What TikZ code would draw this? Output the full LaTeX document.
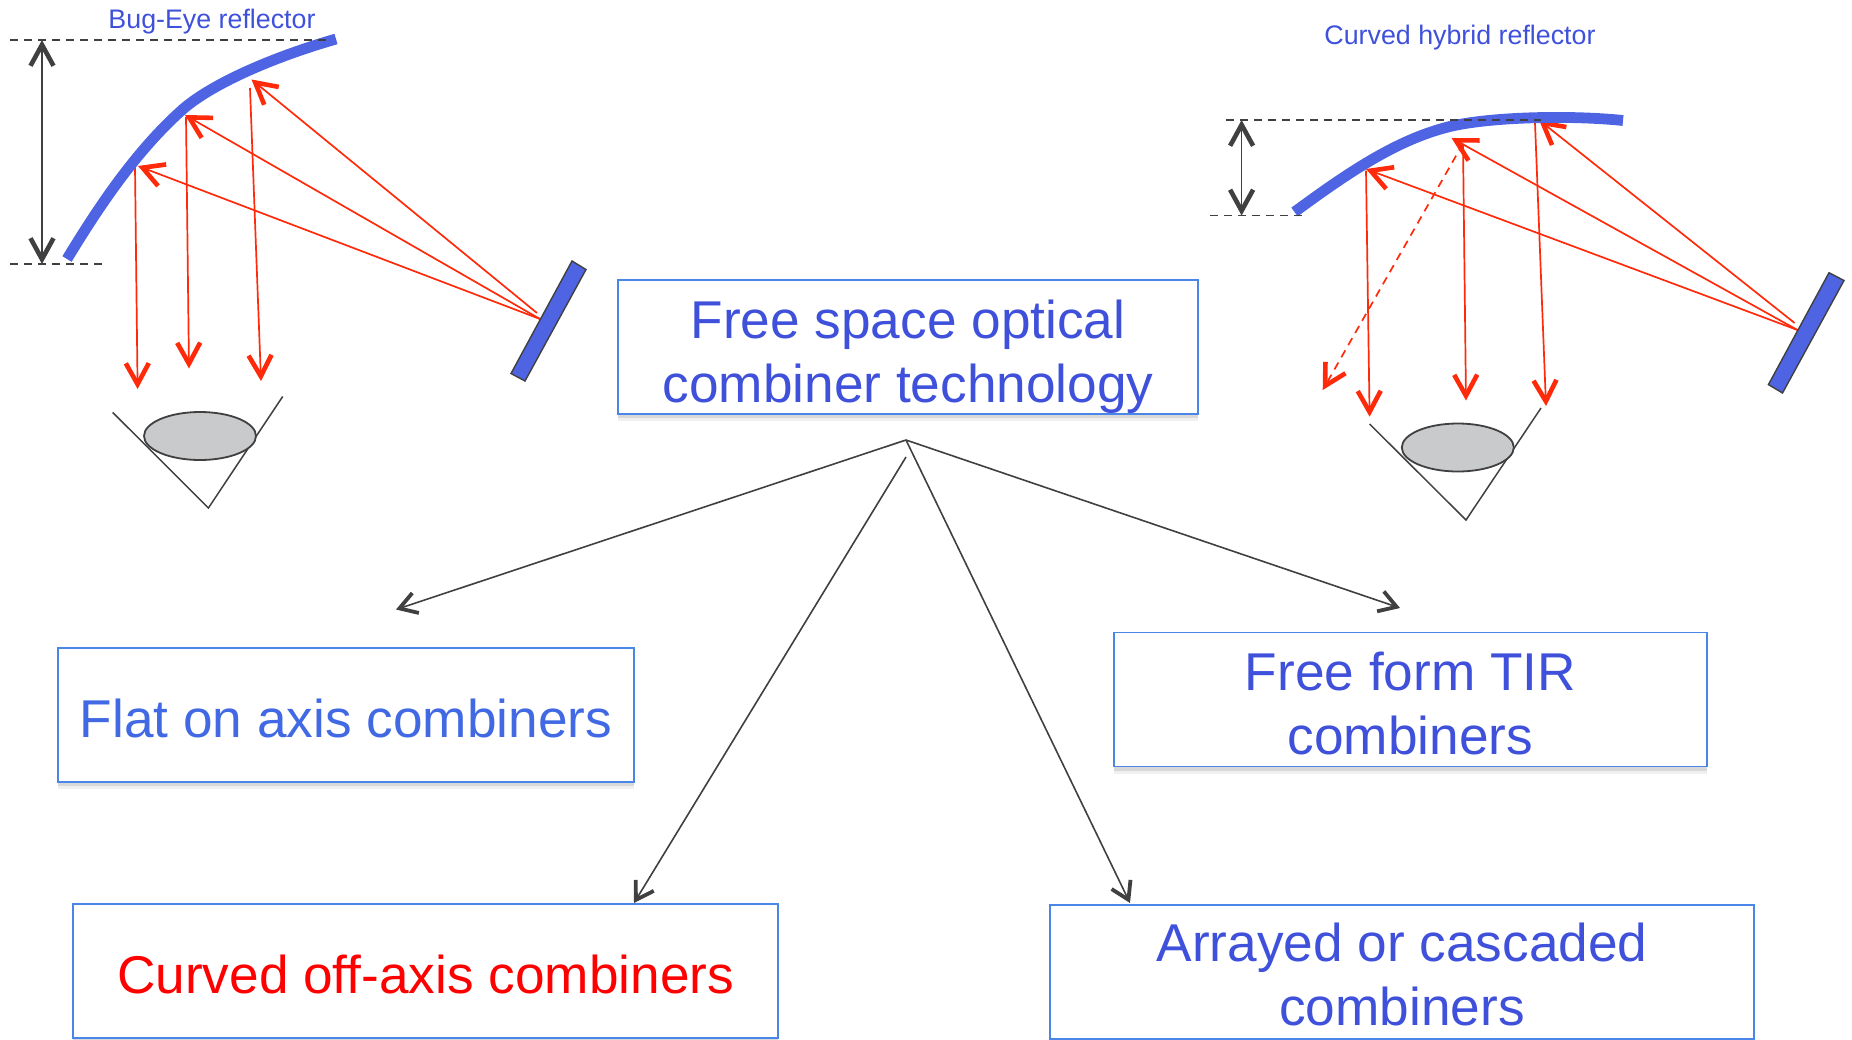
\documentclass[tikz,border=0pt]{standalone}
\usepackage{fontspec}
\setmainfont{Liberation Sans}
\usetikzlibrary{arrows.meta,shadows,positioning,shapes.geometric}
\definecolor{boxline}{HTML}{4A86E8}
\definecolor{topblue}{HTML}{3F51DB}
\definecolor{flatblue}{HTML}{4169E4}
\definecolor{reflblue}{HTML}{4F64E2}
\definecolor{rayred}{HTML}{FF2A0A}
\definecolor{darkline}{HTML}{404040}
\definecolor{eyegray}{HTML}{C9CACC}
\newcommand{\lift}[1]{\rule{0pt}{#1}}
\tikzset{
  x=0.5pt,y=-0.5pt,
  combox/.style={draw=boxline,line width=0.8pt,fill=white,inner sep=0pt,align=center,
    font=\fontsize{26.6pt}{32pt}\selectfont,
    general shadow={shadow xshift=0pt,shadow yshift=-3.5pt,opacity=.06,fill=black},
    general shadow={shadow xshift=0pt,shadow yshift=-2pt,opacity=.10,fill=black}},
  smalllabel/.style={text=topblue,inner sep=0pt,font=\fontsize{13.4pt}{16pt}\selectfont},
  reflector/.style={draw=reflblue,line width=5.4pt},
  mirror/.style={draw=darkline,fill=reflblue,line width=0.7pt},
  ray/.style={draw=rayred,line width=0.85pt},
  rayhead/.style={ray,-{Straight Barb[length=10.5pt,width=11.5pt,line width=2.3pt]}},
  guide/.style={draw=darkline,line width=0.7pt,dash pattern=on 4pt off 3pt},
  dim/.style={draw=darkline,line width=0.85pt,{Straight Barb[length=10.5pt,width=11.5pt,line width=2.3pt]}-{Straight Barb[length=10.5pt,width=11.5pt,line width=2.3pt]}},
  link/.style={draw=darkline,line width=0.8pt,-{Straight Barb[length=8.5pt,width=10.5pt,line width=1.9pt]}},
  eyeball/.style={ellipse,draw=darkline,fill=eyegray,line width=0.9pt,minimum width=56pt,minimum height=24pt,inner sep=0pt},
  eyeline/.style={draw=darkline,line width=0.75pt},
}
\begin{document}
\begin{tikzpicture}
\useasboundingbox (0,0) rectangle (1852,1039);
% boxes
\node[combox,text=topblue,minimum width=290pt,minimum height=67pt] (top) at (908,347) {\lift{28.8pt}Free space optical\\combiner technology};
\node[combox,text=flatblue,minimum width=288pt,minimum height=67pt] (flat) at (346,715) {\lift{23pt}Flat on axis combiners};
\node[combox,text=topblue,minimum width=296.5pt,minimum height=67pt] (free) at (1410.5,699.5) {\lift{23pt}Free form TIR\\combiners};
\node[combox,text=red,minimum width=352.5pt,minimum height=67pt] (curved) at (425.7,971) {\lift{23pt}Curved off-axis combiners};
\node[combox,text=topblue,minimum width=352pt,minimum height=67pt] (array) at (1402,972) {\lift{21.8pt}Arrayed or cascaded\\combiners};
% links
\coordinate (apex) at (906,440);
\coordinate (apexb) at (906,457);
\coordinate (tflat) at (396,609.5);
\coordinate (tfree) at (1400,608);
\coordinate (tcurved) at (634,903);
\coordinate (tarray) at (1130,903);
\draw[link] (apex) -- (tflat);
\draw[link] (apex) -- (tfree);
\draw[link] (apexb) -- (tcurved);
\draw[link] (apex) -- (tarray);
% left figure
\node[smalllabel] (bug) at (212,21.5) {Bug-Eye reflector};
\coordinate (la) at (10,40); \coordinate (lb) at (326,40);
\coordinate (lc) at (10,264); \coordinate (ld) at (102,264);
\coordinate (da) at (42,40); \coordinate (db) at (42,264);
\coordinate (lm1) at (540,319); \coordinate (lm2) at (537,313);
\coordinate (lh1) at (138,166); \coordinate (lh2) at (185,115); \coordinate (lh3) at (251.5,79.5);
\coordinate (ls1) at (135,167); \coordinate (le1) at (137.6,389);
\coordinate (ls2) at (186,117); \coordinate (le2) at (189,368.5);
\coordinate (ls3) at (250,88); \coordinate (le3) at (261,381);
\draw[rayhead] (lm1) -- (lh1);
\draw[rayhead] (lm1) -- (lh2);
\draw[rayhead] (lm2) -- (lh3);
\draw[rayhead] (ls1) -- (le1);
\draw[rayhead] (ls2) -- (le2);
\draw[rayhead] (ls3) -- (le3);
\draw[reflector] (67,259) .. controls (98,208) and (135,152) .. (182,110) .. controls (210,85) and (270,58) .. (336,39);
\draw[guide] (la) -- (lb);
\draw[guide] (lc) -- (ld);
\draw[dim] (da) -- (db);
\draw[mirror] (572,261) -- (586,269.5) -- (525,381) -- (511,373.5) -- cycle;
\coordinate (lv1) at (112.7,412.4); \coordinate (lv2) at (208.4,508); \coordinate (lv3) at (282.7,396.5);
\draw[eyeline] (lv1) -- (lv2) -- (lv3);
\node[eyeball] (leye) at (200,436) {};
% right figure
\node[smalllabel] (hyb) at (1460,37.5) {Curved hybrid reflector};
\coordinate (ra) at (1226,120); \coordinate (rb) at (1541,120);
\coordinate (rc) at (1210,215.5); \coordinate (rd) at (1302,215.5);
\coordinate (dc) at (1241.6,120); \coordinate (dd) at (1241.6,215.5);
\coordinate (rm1) at (1797.5,330); \coordinate (rm2) at (1794.6,323);
\coordinate (rh1) at (1366,169); \coordinate (rh2) at (1451.5,138); \coordinate (rh3) at (1539,120);
\coordinate (rs1) at (1366,170.6); \coordinate (re1) at (1369.6,416.7);
\coordinate (rs2) at (1463,145); \coordinate (re2) at (1466,400.5);
\coordinate (rs3) at (1535,123); \coordinate (re3) at (1546,406);
\coordinate (rds) at (1463,143.5); \coordinate (rde) at (1322.7,390);
\draw[rayhead] (rm1) -- (rh1);
\draw[rayhead] (rm1) -- (rh2);
\draw[rayhead] (rm2) -- (rh3);
\draw[rayhead] (rs1) -- (re1);
\draw[rayhead] (rs2) -- (re2);
\draw[rayhead] (rs3) -- (re3);
\draw[rayhead,dash pattern=on 4pt off 3pt] (rds) -- (rde);
\draw[reflector] (1294.5,212) .. controls (1345,175) and (1395,140) .. (1449.5,126.6) .. controls (1490,116.8) and (1570,115) .. (1623,120.5);
\draw[guide] (ra) -- (rb);
\draw[guide] (rc) -- (rd);
\draw[dim] (dc) -- (dd);
\draw[mirror] (1829,272.7) -- (1844,280.5) -- (1782.5,393) -- (1768.4,384.6) -- cycle;
\coordinate (rv1) at (1369.6,424); \coordinate (rv2) at (1466,520); \coordinate (rv3) at (1541,408);
\draw[eyeline] (rv1) -- (rv2) -- (rv3);
\node[eyeball] (reye) at (1457.8,447.5) {};
\end{tikzpicture}
\end{document}
